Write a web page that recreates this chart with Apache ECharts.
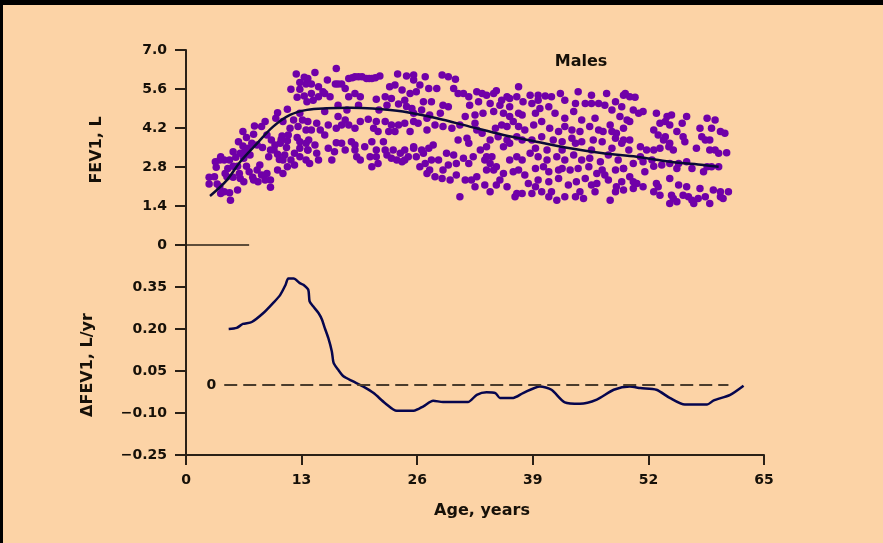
<!DOCTYPE html>
<html>
<head>
<meta charset="utf-8">
<script src="https://cdn.jsdelivr.net/npm/echarts@6/dist/echarts.min.js"></script>
<style>
  html, body { margin: 0; padding: 0; background: #FCD3A6; }
  #chart { width: 883px; height: 543px; }
</style>
</head>
<body>
<div id="chart"></div>
<script>
// Individual FEV1 measurements (age in years, FEV1 in litres), grouped by age band
const fevPoints2to14 = [[12.4,6.14],[13.3,6.02],[12.8,5.83],[13.5,5.78],[11.8,5.59],[12.5,5.30],[13.3,5.35],[13.6,5.14],[10.3,4.75],[11.4,4.87],[10.1,4.55],[10.9,4.43],[12.8,4.73],[8.9,4.43],[8.5,4.25],[7.7,4.27],[6.4,4.07],[6.8,3.86],[7.6,3.98],[9.1,3.95],[9.6,3.77],[10.7,3.79],[11.4,3.74],[11.7,4.19],[12.6,4.25],[13.5,4.13],[12.5,3.86],[12.8,3.71],[13.5,3.65],[13.7,3.41],[12.8,3.47],[12.2,3.29],[11.3,3.50],[11.1,3.23],[10.5,3.07],[9.9,3.41],[10.3,3.26],[9.3,3.17],[9.5,3.41],[8.6,3.50],[8.0,3.59],[7.4,3.65],[7.0,3.47],[6.4,3.55],[6.1,3.29],[6.5,3.11],[5.3,3.35],[5.6,3.15],[4.9,3.05],[3.9,3.17],[4.3,3.05],[4.7,2.75],[5.3,2.83],[5.8,2.83],[6.0,2.57],[6.8,2.83],[7.1,2.63],[7.5,2.43],[8.3,2.87],[8.5,2.51],[9.1,2.57],[9.5,2.33],[9.5,2.07],[8.1,2.27],[7.6,2.33],[6.5,2.27],[5.8,1.97],[4.9,1.88],[5.0,1.61],[4.3,1.91],[3.8,2.09],[3.9,1.85],[3.4,2.79],[3.2,2.45],[2.6,2.43],[2.6,2.19],[3.5,2.19],[5.3,2.43],[4.6,2.45],[10.3,2.69],[10.9,2.57],[11.4,2.81],[12.2,2.87],[11.8,3.05],[12.8,3.17],[13.5,3.05],[10.8,3.91],[10.6,3.65],[11.5,3.95],[5.9,3.71],[6.6,3.35],[7.2,3.23],[3.8,3.05],[3.3,2.99],[4.4,2.57],[6.1,2.39],[8.0,2.69],[8.9,2.33],[10.0,3.59],[10.9,3.05],[12.1,4.49],[13.1,4.49],[12.8,5.59]];
const fevPoints14to26 = [[14.5,6.19],[16.9,6.34],[15.9,5.92],[16.8,5.78],[17.5,5.78],[18.3,5.98],[19.0,6.04],[19.8,6.04],[20.3,5.98],[20.9,5.98],[21.8,6.07],[23.8,6.14],[24.8,6.07],[25.6,5.92],[13.7,5.98],[14.1,5.78],[14.9,5.68],[15.4,5.50],[14.9,5.32],[16.2,5.32],[17.9,5.62],[19.0,5.44],[19.6,5.32],[14.3,5.20],[17.1,5.02],[18.1,4.85],[19.4,5.02],[21.4,5.23],[22.4,5.32],[23.1,5.26],[23.5,5.74],[24.3,5.56],[25.2,5.44],[24.6,5.20],[23.9,5.06],[22.6,5.02],[21.7,4.85],[25.4,4.90],[13.7,4.43],[14.7,4.37],[15.6,4.79],[15.1,4.13],[16.0,4.31],[16.9,4.19],[17.1,4.61],[17.9,4.49],[18.3,4.31],[19.0,4.19],[19.6,4.43],[20.5,4.51],[21.4,4.43],[21.1,4.19],[21.6,4.07],[22.4,4.43],[23.1,4.31],[23.9,4.31],[24.6,4.37],[25.6,4.43],[25.2,4.07],[14.1,4.13],[13.8,3.77],[13.7,3.41],[14.7,3.29],[14.5,3.59],[16.0,3.47],[16.9,3.67],[16.7,3.35],[16.4,3.05],[17.9,3.41],[18.6,3.71],[19.0,3.41],[19.2,3.17],[20.1,3.53],[20.9,3.71],[21.4,3.41],[22.2,3.71],[21.4,3.17],[20.9,2.81],[21.6,2.93],[22.6,3.23],[23.3,3.41],[24.1,3.29],[24.6,3.41],[25.6,3.53],[23.1,3.11],[24.3,2.99],[25.0,3.17],[13.9,2.93],[19.6,3.05],[18.7,6.00],[19.4,6.04],[20.6,5.98],[21.3,6.00],[17.1,5.78],[15.6,5.44],[14.1,5.44],[18.3,5.32],[22.9,5.68],[24.8,4.97],[17.5,4.31],[22.8,4.07],[23.5,4.07],[15.6,3.95],[17.5,3.65],[19.0,3.59],[22.4,3.41],[23.7,3.05],[24.6,3.05],[14.9,3.05],[20.7,3.17]];
const fevPoints26to37 = [[25.6,6.10],[26.9,6.04],[26.3,5.74],[27.3,5.62],[25.9,5.50],[28.8,6.10],[29.5,6.04],[30.3,5.95],[30.1,5.62],[28.2,5.62],[30.6,5.44],[31.2,5.44],[32.7,5.50],[33.8,5.38],[34.9,5.54],[36.1,5.32],[37.2,5.32],[26.7,5.14],[27.6,5.14],[29.5,4.96],[31.9,5.02],[32.9,5.14],[34.2,5.08],[35.3,5.02],[36.4,4.96],[37.4,4.73],[36.4,4.61],[35.7,4.73],[36.8,4.43],[25.6,4.73],[26.5,4.85],[27.4,4.67],[28.6,4.73],[26.1,4.37],[27.1,4.13],[28.0,4.31],[28.9,4.25],[29.9,4.19],[30.8,4.31],[31.4,4.61],[32.5,4.67],[33.4,4.73],[34.6,4.79],[30.6,3.77],[31.6,3.83],[32.7,4.13],[33.3,4.01],[34.2,3.77],[35.1,3.89],[36.1,3.77],[37.2,3.89],[34.8,4.19],[35.5,4.31],[25.6,3.47],[26.5,3.41],[27.3,3.47],[27.8,3.59],[25.9,3.17],[26.9,2.93],[27.4,2.69],[28.0,2.45],[28.8,2.39],[28.4,3.05],[29.3,3.29],[30.1,3.23],[29.5,2.87],[30.4,2.93],[31.2,3.11],[31.8,2.93],[32.3,3.17],[33.1,3.41],[33.8,3.53],[33.6,3.05],[34.4,3.17],[34.9,2.81],[35.7,2.57],[36.4,3.05],[37.2,3.17],[36.8,2.63],[32.7,2.45],[32.1,2.33],[31.4,2.33],[30.4,2.51],[29.7,2.33],[33.6,2.15],[34.2,1.91],[34.9,2.15],[36.1,2.09],[30.8,1.73],[37.2,1.85],[32.5,2.09],[28.9,2.69],[26.7,3.29],[26.3,2.81],[27.1,2.57],[27.6,3.05],[33.8,3.17],[34.2,2.93],[34.6,2.69],[33.8,2.69],[35.3,2.33],[28.9,5.02],[31.8,5.32],[33.3,5.44],[34.6,5.44],[35.5,5.20],[36.4,5.26],[36.1,4.25],[36.4,3.65],[35.7,3.53],[31.8,3.65],[32.5,4.37],[27.1,4.55]];
const fevPoints37to49 = [[37.4,5.68],[38.7,5.38],[39.6,5.38],[40.4,5.35],[41.1,5.32],[42.1,5.44],[37.9,5.14],[38.9,5.08],[39.8,4.90],[40.8,4.96],[44.1,5.50],[45.6,5.38],[47.3,5.44],[49.2,5.38],[44.9,5.08],[46.4,5.08],[47.1,5.02],[43.6,4.79],[41.5,4.73],[39.3,4.73],[37.8,4.67],[47.9,4.85],[48.8,4.61],[46.0,4.55],[44.5,4.49],[42.6,4.55],[37.4,4.25],[38.1,4.13],[39.1,4.31],[40.0,4.43],[40.9,4.19],[41.9,4.07],[42.6,4.25],[43.4,4.13],[44.3,4.07],[45.4,4.25],[46.4,4.13],[47.7,4.31],[48.4,4.01],[49.2,4.19],[37.8,3.77],[38.9,3.77],[40.0,3.89],[41.3,3.77],[42.3,3.71],[43.4,3.83],[44.5,3.71],[45.8,3.77],[46.8,3.71],[48.3,3.83],[49.0,3.65],[37.8,3.05],[38.7,3.29],[39.6,3.17],[40.6,3.05],[41.7,3.17],[42.6,3.05],[43.6,3.23],[44.5,3.05],[45.4,3.11],[46.6,2.99],[47.5,3.23],[48.6,3.05],[37.4,2.69],[38.1,2.51],[39.3,2.75],[40.2,2.81],[40.8,2.63],[42.3,2.75],[43.2,2.69],[44.1,2.75],[45.3,2.81],[46.2,2.57],[47.1,2.51],[48.3,2.69],[49.2,2.75],[38.5,2.21],[39.6,2.33],[40.8,2.27],[41.9,2.39],[43.0,2.15],[43.9,2.27],[44.9,2.39],[46.2,2.21],[47.5,2.33],[48.4,2.09],[37.8,1.85],[38.9,1.85],[40.0,1.91],[40.8,1.73],[41.7,1.61],[42.6,1.73],[43.8,1.73],[44.7,1.67],[46.0,1.91],[47.7,1.61],[48.3,1.91],[37.0,1.73],[39.6,5.20],[42.6,5.20],[43.8,5.08],[45.6,5.08],[48.3,5.14],[46.9,4.07],[47.9,4.07],[43.8,3.65],[39.3,3.47],[40.6,3.41],[42.3,3.41],[45.6,3.41],[47.9,3.47],[41.9,2.69],[46.8,2.69],[39.3,2.09],[45.6,2.15],[41.1,1.91],[44.3,1.91],[49.0,2.27]];
const fevPoints49to62 = [[49.4,5.44],[49.9,5.32],[50.5,5.30],[49.0,4.96],[49.6,4.49],[50.3,4.85],[50.9,4.73],[51.4,4.79],[52.9,4.73],[54.1,4.61],[54.6,4.67],[56.3,4.61],[58.6,4.55],[59.5,4.49],[53.9,4.43],[54.4,4.31],[55.8,4.37],[57.8,4.19],[59.1,4.19],[60.1,4.07],[60.6,4.01],[49.2,3.77],[49.9,3.77],[52.6,4.13],[53.1,3.95],[53.7,3.77],[55.2,4.07],[55.9,3.89],[58.0,3.89],[58.9,3.77],[53.3,3.47],[54.3,3.53],[54.8,3.41],[57.4,3.47],[58.9,3.41],[59.9,3.29],[60.8,3.31],[49.8,3.41],[51.1,3.53],[51.8,3.41],[52.6,3.41],[50.3,2.93],[51.4,2.99],[52.6,2.83],[53.5,2.87],[54.4,2.93],[55.4,2.93],[56.3,2.99],[56.9,2.75],[58.6,2.81],[59.9,2.81],[49.2,2.75],[51.6,2.63],[49.9,2.45],[50.7,2.21],[51.4,2.09],[52.9,2.21],[54.4,2.39],[55.4,2.15],[56.3,2.09],[49.2,1.97],[50.3,2.03],[52.6,1.91],[53.3,1.79],[54.6,1.79],[55.9,1.79],[56.9,1.61],[57.6,1.67],[58.4,1.73],[59.3,1.97],[60.1,1.73],[61.0,1.91],[54.4,1.49],[55.2,1.55],[57.1,1.49],[58.9,1.49],[60.4,1.67],[57.8,2.03],[49.9,4.43],[53.3,4.37],[53.9,3.89],[54.4,3.65],[56.1,3.71],[58.4,3.77],[59.5,3.41],[51.1,3.17],[52.4,3.05],[55.2,2.75],[58.2,2.63],[59.1,2.81],[50.3,2.27],[53.1,2.09],[54.8,1.67],[56.5,1.73],[60.1,1.91]];

// Fitted mean FEV1 curve
const fitAges = [2.7, 4.6, 6.1, 8.0, 9.8, 11.7, 13.6, 15.8, 18.5, 21.0, 24.4, 28.2, 31.9, 35.7, 39.4, 43.2, 46.9, 50.7, 54.4, 58.2, 59.9];
const fitFev  = [1.76, 2.33, 2.99, 3.65, 4.25, 4.67, 4.85, 4.91, 4.93, 4.90, 4.79, 4.55, 4.25, 3.95, 3.71, 3.47, 3.29, 3.17, 2.99, 2.87, 2.81];

// Annual change in FEV1 (L/yr)
const rateAges = [4.8, 5.7, 6.4, 7.4, 8.7, 9.8, 10.6, 11.2, 11.5, 12.1, 12.8, 13.2, 13.75, 13.9, 14.3, 14.9, 15.3, 15.6, 16.0, 16.4, 16.6, 17.1, 17.7, 18.8, 19.9, 21.1, 22.4, 23.7, 25.6, 26.7, 27.8, 28.9, 31.7, 32.7, 33.8, 34.8, 35.3, 36.8, 37.9, 39.8, 41.1, 42.6, 44.3, 46.2, 48.1, 49.9, 51.1, 52.9, 54.4, 56.1, 58.6, 59.3, 61.2, 62.7];
const rateValues = [0.200, 0.204, 0.218, 0.225, 0.257, 0.293, 0.322, 0.358, 0.380, 0.380, 0.364, 0.358, 0.340, 0.299, 0.281, 0.257, 0.233, 0.204, 0.168, 0.120, 0.079, 0.055, 0.031, 0.013, -0.005, -0.029, -0.065, -0.092, -0.092, -0.076, -0.056, -0.061, -0.061, -0.035, -0.026, -0.029, -0.046, -0.046, -0.029, -0.005, -0.017, -0.062, -0.067, -0.052, -0.017, -0.005, -0.011, -0.017, -0.046, -0.070, -0.070, -0.056, -0.035, -0.0025];

// Reference lines: zero-change line and the short baseline stub of the upper panel
const zeroLineAges = [4.3, 61];
const stubAges = [0, 7.1];

// Tick settings
const ageTicks = { min: 0, max: 65, interval: 13 };
const fevTicks = { min: 0, max: 7, interval: 1.4 };
const rateTicks = { min: -0.25, max: 0.5, interval: 0.15 };

const zip = (xs, ys) => xs.map((x, i) => [x, ys[i]]);

const axisColor = '#2a2016';
const textColor = '#161008';
const font = 'DejaVu Sans';
const titleFont = 'bold 16px "DejaVu Sans"';
const labelStyle = { fontFamily: font, fontWeight: 'bold', fontSize: 14, color: textColor };

const chart = echarts.init(document.getElementById('chart'), null, { renderer: 'canvas' });

chart.setOption({
  backgroundColor: '#FCD3A6',
  animation: false,
  grid: [
    { left: 186, top: 50, width: 578, height: 195 },
    { left: 186, top: 245, width: 578, height: 210 }
  ],
  xAxis: [
    { gridIndex: 0, type: 'value', min: ageTicks.min, max: ageTicks.max, show: false },
    {
      gridIndex: 1, type: 'value', min: ageTicks.min, max: ageTicks.max, interval: ageTicks.interval,
      axisLine: { show: true, onZero: false, lineStyle: { color: axisColor, width: 2 } },
      axisTick: { show: true, length: 10, lineStyle: { color: axisColor, width: 2 } },
      axisLabel: Object.assign({ margin: 18 }, labelStyle),
      splitLine: { show: false }
    }
  ],
  yAxis: [
    {
      gridIndex: 0, type: 'value', min: fevTicks.min, max: fevTicks.max, interval: fevTicks.interval,
      axisLine: { show: true, onZero: false, lineStyle: { color: axisColor, width: 2 } },
      axisTick: { show: true, length: 11, lineStyle: { color: axisColor, width: 2 } },
      axisLabel: Object.assign({ margin: 19, formatter: v => (Math.abs(v) < 1e-9 ? '0' : v.toFixed(1)) }, labelStyle),
      splitLine: { show: false }
    },
    {
      gridIndex: 1, type: 'value', min: rateTicks.min, max: rateTicks.max, interval: rateTicks.interval,
      axisLine: { show: true, onZero: false, lineStyle: { color: axisColor, width: 2 } },
      axisTick: { show: true, length: 11, lineStyle: { color: axisColor, width: 2 } },
      axisLabel: Object.assign({
        margin: 19,
        formatter: v => (v > 0.45 ? '' : v.toFixed(2).replace('-', '\u2212'))
      }, labelStyle),
      splitLine: { show: false }
    }
  ],
  series: [
    {
      type: 'scatter', xAxisIndex: 0, yAxisIndex: 0,
      data: [].concat(fevPoints2to14, fevPoints14to26, fevPoints26to37, fevPoints37to49, fevPoints49to62),
      symbol: 'circle', symbolSize: 7.5,
      itemStyle: { color: '#7000A8', opacity: 1 },
      z: 2
    },
    {
      type: 'line', xAxisIndex: 0, yAxisIndex: 0,
      data: zip(fitAges, fitFev),
      smooth: 0.35, showSymbol: false, symbol: 'none',
      lineStyle: { color: '#0a0a38', width: 2.5 },
      z: 3
    },
    {
      type: 'line', xAxisIndex: 0, yAxisIndex: 0,
      data: stubAges.map(a => [a, 0]),
      showSymbol: false, symbol: 'none', clip: false,
      lineStyle: { color: axisColor, width: 1.5 },
      z: 3
    },
    {
      type: 'line', xAxisIndex: 1, yAxisIndex: 1,
      data: zip(rateAges, rateValues),
      smooth: 0.25, showSymbol: false, symbol: 'none',
      lineStyle: { color: '#06064e', width: 2.5 },
      z: 3,
      markLine: {
        silent: true, symbol: 'none',
        lineStyle: { color: '#4a3c2c', width: 2, type: [13, 6] },
        label: { show: true, position: 'start', distance: 8, formatter: '0', fontFamily: font, fontWeight: 'bold', fontSize: 14, color: textColor },
        data: [[{ coord: [zeroLineAges[0], 0] }, { coord: [zeroLineAges[1], 0] }]]
      }
    }
  ],
  graphic: [
    { type: 'rect', left: 0, top: 0, shape: { width: 883, height: 5 }, style: { fill: '#000' } },
    { type: 'rect', left: 0, top: 0, shape: { width: 3, height: 543 }, style: { fill: '#000' } },
    { type: 'text', x: 581, y: 62, style: { text: 'Males', font: titleFont, fill: textColor, align: 'center', verticalAlign: 'middle' } },
    { type: 'text', x: 97, y: 150, rotation: Math.PI / 2, style: { text: 'FEV1, L', font: titleFont, fill: textColor, align: 'center', verticalAlign: 'middle' } },
    { type: 'text', x: 88, y: 365, rotation: Math.PI / 2, style: { text: '\u0394FEV1, L/yr', font: titleFont, fill: textColor, align: 'center', verticalAlign: 'middle' } },
    { type: 'text', x: 482, y: 511, style: { text: 'Age, years', font: titleFont, fill: textColor, align: 'center', verticalAlign: 'middle' } }
  ]
});
</script>
</body>
</html>
